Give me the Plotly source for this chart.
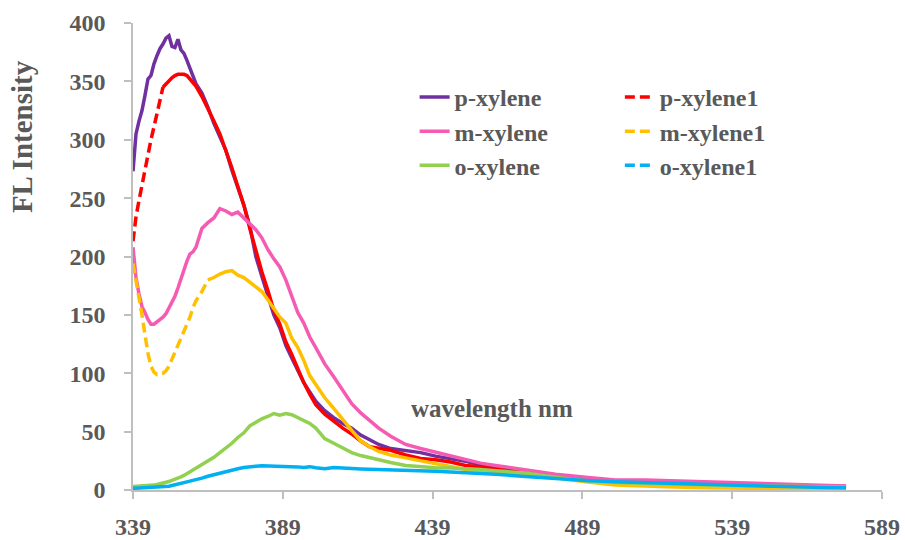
import plotly.graph_objects as go

# ---------------- data ----------------
WAVELENGTH = [339, 340, 341, 342, 343, 344, 345, 346, 347, 348, 349, 350, 351, 352, 353,
              354, 355, 356, 357, 358, 359, 360, 362, 364, 366, 368, 370, 372, 374, 376,
              378, 380, 382, 384, 386, 388, 390, 392, 394, 396, 398, 400, 403, 406, 409,
              412, 415, 418, 421, 425, 430, 435, 440, 445, 450, 455, 460, 470, 480, 490,
              500, 510, 520, 530, 540, 550, 560, 570, 577]

P_XYLENE = [273, 305, 316, 325, 338, 352, 355, 365, 372, 378, 382, 387, 389, 380, 379,
            386, 377, 374, 368, 361, 353, 348, 340, 328, 314, 302, 291, 274, 259, 244,
            226, 200, 183, 167, 150, 139, 124, 113, 103, 92, 84, 76, 68, 62, 57,
            53, 47, 43, 39, 35.5, 33.5, 32, 29, 27, 24.5, 21.5, 19.5, 15.5, 12.5, 10,
            8, 7, 6, 5, 4.5, 4, 3.8, 3.3, 3]

P_XYLENE1 = [213, 234, 248, 262, 276, 289, 300, 311, 322, 334, 345, 348, 351, 353, 355,
             356, 356, 356, 355, 352, 349, 346, 337, 327, 316, 305, 291, 276, 260, 244,
             224, 204, 187, 171, 154, 142, 127, 116, 104, 92, 82, 73, 65, 59, 53,
             48, 42, 37, 36, 34, 30, 27, 26, 24, 21, 20, 18, 15, 12, 9,
             7, 6, 5, 5, 4, 4, 3.5, 3, 3]

M_XYLENE = [208, 182, 168, 157, 152, 146, 142, 142, 144, 146, 148, 151, 156, 161, 166,
            173, 181, 189, 196, 202, 204, 208, 224, 229, 233, 241, 239, 236, 238, 233,
            228, 223, 216, 206, 198, 191, 180, 167, 152, 143, 131, 122, 108, 97, 85,
            74, 66, 59, 53, 46, 39, 35.5, 32.5, 29, 26, 23, 21, 17, 13.5, 11,
            8.6, 8.5, 7.8, 7, 6, 5.5, 4.8, 4, 3.4]

M_XYLENE1 = [194, 180, 166, 150, 133, 117, 106, 101, 99, 100, 100, 102, 106, 112, 118,
             124, 131, 137, 142, 148, 156, 162, 170, 180, 182, 185, 187, 188, 184, 182,
             178, 174, 170, 163, 156, 148, 143, 130, 122, 111, 98, 90, 79, 70, 60,
             51, 42, 37, 33, 30, 27.5, 25, 22, 19.5, 17.5, 15.7, 15, 13, 10.5, 7,
             4.3, 3.2, 2.5, 2, 1.5, 1.2, 1, 1, 1]

O_XYLENE = [2.9, 3, 3, 3.2, 3.3, 3.4, 3.8, 4.2, 4.7, 5.2, 5.7, 6.5, 7.3, 8.2, 9,
            10, 11.2, 12.5, 14, 15.5, 17, 18.6, 21.5, 24.5, 28, 32, 36, 40, 45, 49,
            55, 58, 61, 63, 65.5, 64, 65.5, 64.5, 62, 59, 57, 53, 44, 40, 36,
            32, 29.5, 27.5, 26, 23.5, 21, 20, 19, 18.8, 18.5, 17.5, 16.5, 14.5, 11, 8,
            6.5, 5.5, 4.8, 4.2, 3.8, 3.4, 3, 2.8, 2.6]

O_XYLENE1 = [1.4, 1.5, 1.6, 1.7, 1.8, 1.9, 2, 2.1, 2.2, 2.3, 2.4, 2.8, 3.3, 3.8, 4.3,
             5, 5.6, 6.3, 7, 7.6, 8.1, 8.6, 10.2, 11.8, 13.2, 14.6, 15.8, 17, 18.2, 19.2,
             20, 20.4, 20.8, 20.6, 20.4, 20.5, 20.6, 20.2, 19.8, 19.2, 20, 19.1, 18.3, 19.2, 18.5,
             18.4, 18, 17.8, 17.6, 17.4, 17.2, 16.6, 16, 15.4, 15, 14.3, 13.5, 11.5, 9.6, 8.2,
             7, 6.2, 5.6, 4.8, 4, 3.2, 2.7, 2.2, 2]

X_TICKS = [339, 389, 439, 489, 539, 589]
Y_TICKS = [0, 50, 100, 150, 200, 250, 300, 350, 400]

# series: name, values, colour, dashed, wavelength where the visible dashing ends, legend
SERIES = [
    ("p-xylene", P_XYLENE, "#7030A0", False, None, "legend"),
    ("p-xylene1", P_XYLENE1, "#FF0000", True, 349, "legend2"),
    ("m-xylene", M_XYLENE, "#F55BB2", False, None, "legend"),
    ("m-xylene1", M_XYLENE1, "#FFC000", True, 364, "legend2"),
    ("o-xylene", O_XYLENE, "#92D050", False, None, "legend"),
    ("o-xylene1", O_XYLENE1, "#00B0F0", True, 340, "legend2"),
]

FONT = "Liberation Serif, Times New Roman, serif"
GREY = "#595959"
AXIS = "#BFBFBF"
LW = 3.5
DASH = "10px,5px"

fig = go.Figure()
for name, vals, color, dashed, dash_end, leg in SERIES:
    if not dashed:
        fig.add_trace(go.Scatter(x=WAVELENGTH, y=vals, mode="lines", name=name,
                                 legend=leg, legendgroup=name,
                                 line=dict(color=color, width=LW)))
    else:
        xd = [w for w in WAVELENGTH if w <= dash_end]
        yd = vals[:len(xd)]
        i0 = len(xd) - 1
        fig.add_trace(go.Scatter(x=xd, y=yd, mode="lines", name=name,
                                 legend=leg, legendgroup=name,
                                 line=dict(color=color, width=LW, dash=DASH)))
        fig.add_trace(go.Scatter(x=WAVELENGTH[i0:], y=vals[i0:], mode="lines", name=name,
                                 legend=leg, legendgroup=name, showlegend=False,
                                 line=dict(color=color, width=LW)))

axis_common = dict(showline=True, linecolor=AXIS, linewidth=1.5, ticks="outside",
                   ticklen=7, tickwidth=1.5, tickcolor=AXIS, showgrid=False,
                   zeroline=False, automargin=False,
                   tickfont=dict(family=FONT, size=24, color=GREY, weight="bold"))

fig.update_xaxes(range=[339, 589], tickvals=X_TICKS, ticklabelstandoff=7, **axis_common)
fig.update_yaxes(range=[0, 400], tickvals=Y_TICKS, ticklabelstandoff=14, **axis_common)

legend_common = dict(yanchor="top", xanchor="left", y=0.889, tracegroupgap=0,
                     bgcolor="rgba(0,0,0,0)",
                     font=dict(family=FONT, size=24, color=GREY, weight="bold"))

fig.update_layout(
    width=905, height=540,
    margin=dict(l=133, r=23, t=23, b=50),
    plot_bgcolor="white", paper_bgcolor="white",
    legend=dict(x=0.376, **legend_common),
    legend2=dict(x=0.650, **legend_common),
    annotations=[
        dict(text="FL Intensity", xref="paper", yref="paper", x=-0.148, y=0.756,
             textangle=-90, showarrow=False, xanchor="center", yanchor="middle",
             font=dict(family=FONT, size=29, color=GREY, weight="bold")),
        dict(text="wavelength nm", xref="x", yref="y", x=458.8, y=70,
             showarrow=False, xanchor="center", yanchor="middle",
             font=dict(family=FONT, size=25, color=GREY, weight="bold")),
    ],
)

fig.write_html("out.html")
